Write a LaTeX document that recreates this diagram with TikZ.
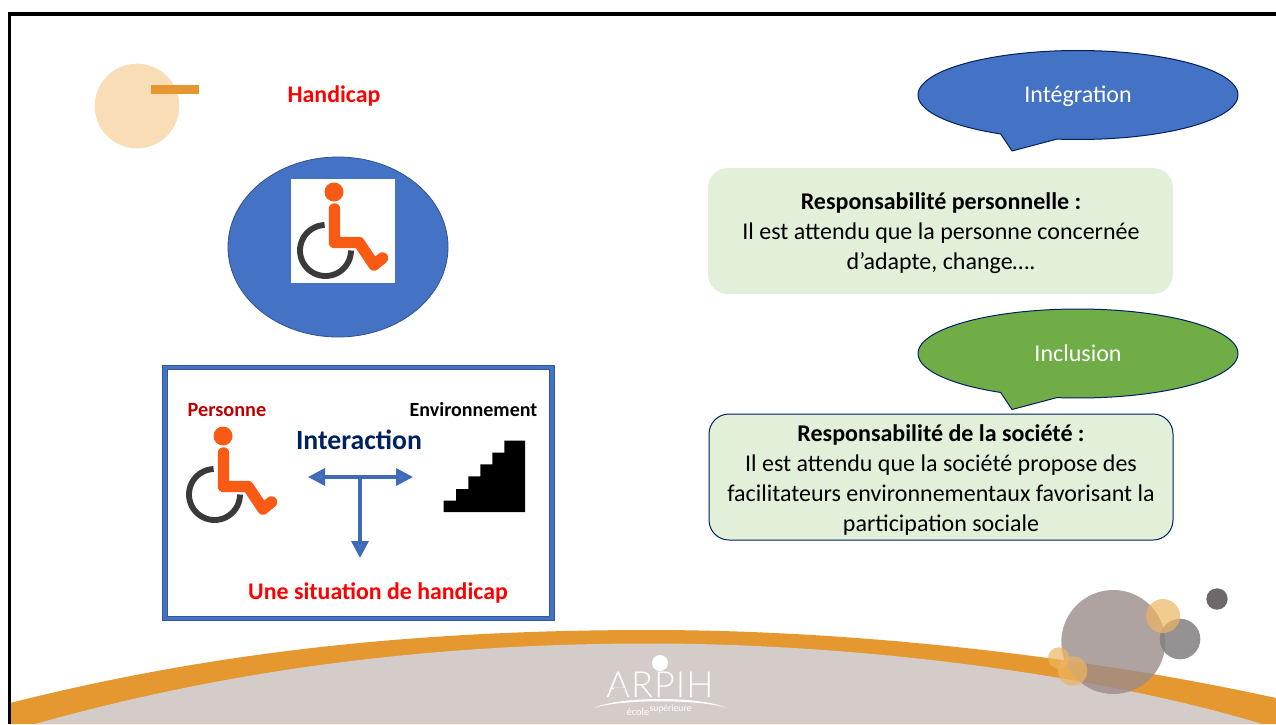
\documentclass[tikz,border=0pt]{standalone}
\usepackage{fontspec}
\usetikzlibrary{arrows.meta}
\setmainfont{Carlito}
\newfontfamily\logofont{Lato Light}
\definecolor{blueA}{HTML}{4472C4}
\definecolor{blueB}{HTML}{2F528F}
\definecolor{blueC}{HTML}{3F6AB5}
\definecolor{navyT}{HTML}{002060}
\definecolor{greenA}{HTML}{70AD47}
\definecolor{mintA}{HTML}{E2F0D9}
\definecolor{orangeA}{HTML}{E59730}
\definecolor{sandA}{HTML}{D4CCC8}
\definecolor{wheelO}{HTML}{F95B14}
\definecolor{wheelK}{HTML}{3A3A3A}
\definecolor{peach}{HTML}{F8DDB6}
\definecolor{ballBig}{HTML}{9C8C8B}
\definecolor{ballGray}{HTML}{847F82}
\definecolor{ballDark}{HTML}{6D686A}
\definecolor{ballOr}{HTML}{ECB560}
\newcommand{\fs}[1]{\fontsize{#1}{#1}\selectfont}
\newcommand{\wheelchair}{%
  \fill[wheelO] (334,192) circle[radius=9.5];
  \draw[wheelK,line width=4.4pt] plot[domain=92:360,samples=40] ({325.5+25.5*cos(\x)},{250.5-25.5*sin(\x)});
  \draw[wheelO,line width=8.6pt,line cap=round,line join=round]
    (334.5,209) -- (334.5,242.5) -- (359,242.5) -- (374,265) -- (382.5,258);
}
\tikzset{
  x=0.75pt,y=-0.75pt,
  tlabel/.style={inner sep=0pt},
  tee/.style={draw=blueC,line width=2.5pt,-{Triangle[length=12.75pt,width=12.75pt,fill=blueA]}},
  teetwo/.style={draw=blueC,line width=2.5pt,{Triangle[length=12.75pt,width=12.75pt,fill=blueA]}-{Triangle[length=12.75pt,width=12.75pt,fill=blueA]}},
  bodytext/.style={align=center,inner sep=0pt,text=black,font=\fs{18}}
}
\begin{document}
\begin{tikzpicture}
\useasboundingbox (0,0) rectangle (1276,724);
\fill[white] (0,0) rectangle (1276,724);
% banner
\fill[orangeA] (8,703.5) .. controls (200,655) and (400,630) .. (650,630) .. controls (850,630) and (1080,655) .. (1276,698) -- (1276,724) -- (8,724) -- cycle;
\fill[sandA] (35,724) .. controls (220,672) and (420,643.5) .. (650,643.5) .. controls (850,643.5) and (1090,672) .. (1262,724) -- cycle;
% frame
\draw[black,line width=2.4pt] (1276,14) -- (9.5,14) -- (9.5,724);
% top-left decor
\fill[peach] (137,106) circle[radius=42.3];
\fill[orangeA] (151,85.3) rectangle (199,94);
% title and disc
\node[tlabel,text=red,font=\bfseries\fs{17.9}] (title) at (334,96) {Handicap};
\fill[blueA,draw=blueB,line width=0.6pt] (338,247) ellipse[x radius=110,y radius=90];
\fill[white] (291,179) rectangle (395,283);
\wheelchair
% interaction box
\draw[blueA,line width=3.4pt] (164.5,367) rectangle (551.5,618);
\draw[blueB!80!blueA,line width=0.45pt] (162.2,364.8) rectangle (553.8,620.2);
\draw[blueB!80!blueA,line width=0.45pt] (166.8,369.2) rectangle (549.2,615.8);
\node[tlabel,text=red!75!black,font=\bfseries\fs{15.2}] (pers) at (227,410) {Personne};
\node[tlabel,text=black,font=\bfseries\fs{15}] (envi) at (473.5,410) {Environnement};
\node[tlabel,text=navyT,font=\bfseries\fs{20.8}] (inter) at (359,440) {Interaction};
\node[tlabel,text=red,font=\bfseries\fs{17.9}] (situ) at (378,593) {Une situation de handicap};
\begin{scope}[shift={(-111,244)}]
  \wheelchair
\end{scope}
\fill[black] (443.7,512) -- (443.7,500.7) -- (456,500.7) -- (456,489) -- (468.3,489) -- (468.3,476.3) -- (480.3,476.3) -- (480.3,464.3) -- (492.3,464.3) -- (492.3,452.7) -- (504.3,452.7) -- (504.3,440.7) -- (525,440.7) -- (525,512) -- cycle;
\coordinate (tl) at (308,477);
\coordinate (tr) at (413,477);
\coordinate (tm) at (360,477);
\coordinate (tb) at (360,558);
\draw[teetwo] (tl) -- (tr);
\draw[tee] (tm) -- (tb);
% bubbles
\fill[blueA,draw=navyT,line width=0.75pt,line join=round] plot[domain=97.6:-241.1,samples=120] ({1078+160*cos(\x)},{95+44.5*sin(\x)}) -- (1012,151) -- cycle;
\node[inner sep=0pt,text=white,font=\fs{18}] (integ) at (1078,96) {Intégration};
\fill[greenA,draw=navyT,line width=0.75pt,line join=round] plot[domain=97.6:-241.1,samples=120] ({1078+160*cos(\x)},{353.5+44.5*sin(\x)}) -- (1012,409.5) -- cycle;
\node[inner sep=0pt,text=white,font=\fs{18}] (incl) at (1078,353) {Inclusion};
% green boxes
\fill[mintA,rounded corners=15pt] (708,168) rectangle (1173,294);
\node[bodytext] (resp1) at (941,233) {{\bfseries Responsabilité personnelle :}\\[4.5pt]Il est attendu que la personne concernée\\[4.5pt]d’adapte, change….};
\draw[fill=mintA,rounded corners=15pt,draw=navyT,line width=0.75pt] (709,414) rectangle (1173,540);
\node[bodytext] (resp2) at (941,480) {{\bfseries Responsabilité de la société :}\\[4.5pt]Il est attendu que la société propose des\\[4.5pt]facilitateurs environnementaux favorisant la\\[4.5pt]participation sociale};
% decorative balls
\fill[ballBig,fill opacity=0.8] (1113.3,642) circle[radius=52];
\fill[ballGray,fill opacity=0.85] (1180,639) circle[radius=20.3];
\fill[ballOr,fill opacity=0.7] (1163,616) circle[radius=17];
\fill[ballOr,fill opacity=0.7] (1058.7,658) circle[radius=10.7];
\fill[ballOr,fill opacity=0.7] (1072.7,671) circle[radius=14.7];
\fill[ballDark] (1217,599) circle[radius=10.7];
% logo
\fill[white] (660,663) circle[radius=8];
\node[inner sep=0pt,text=white,font=\logofont\fs{27}\addfontfeature{LetterSpace=3}] (arpih) at (660,685) {ARPIH};
\fill[sandA] (613.7,687.5) rectangle (625,692);
\fill[white] (594,708) .. controls (620,696) and (700,696) .. (727,708) .. controls (700,699) and (620,699) .. cycle;
\node[inner sep=0pt,text=white,font=\fs{7.8}] (eco) at (638,712) {école};
\node[inner sep=0pt,text=white,font=\fs{7.2}] (sup) at (670.5,709) {supérieure};
\end{tikzpicture}
\end{document}
